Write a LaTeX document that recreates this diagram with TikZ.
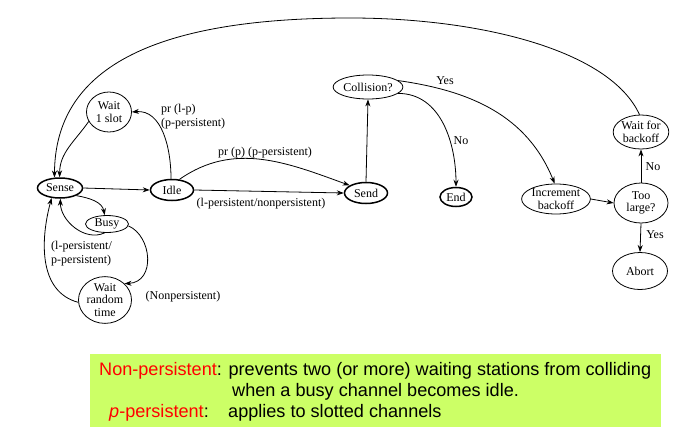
\documentclass[tikz,border=0pt]{standalone}
\usepackage{fontspec}
\setmainfont{Liberation Serif}
\newfontfamily\boxfont{Liberation Sans}
\usetikzlibrary{shapes.geometric,arrows.meta}
\definecolor{boxgreen}{HTML}{CCFF66}
\tikzset{
  st/.style={ellipse,draw,line width=0.8pt,inner sep=0pt,align=center,
    font=\fontsize{12}{12.5}\selectfont},
  stb/.style={st,line width=1.5pt},
  lbl/.style={font=\fontsize{12}{13.5}\selectfont,inner sep=0pt,align=left},
  arr/.style={-{Stealth[length=7pt,width=5pt]},line width=0.8pt},
  boxtxt/.style={font=\boxfont\fontsize{18.1}{21}\selectfont,inner sep=0pt,anchor=base west}
}
\begin{document}
\begin{tikzpicture}[x=1pt,y=-1pt]
\useasboundingbox (0,0) rectangle (696,439);
% nodes
\node[stb,minimum width=45pt,minimum height=20pt] (sense) at (60,188) {Sense};
\node[st,minimum width=45pt,minimum height=40pt] (wait1) at (109,112) {Wait\\1 slot};
\node[stb,minimum width=43pt,minimum height=21pt] (idle) at (172,190) {Idle};
\node[st,minimum width=43pt,minimum height=17pt] (busy) at (107,224) {Busy};
\node[st,minimum width=53pt,minimum height=42pt] (waitr) at (105,300) {Wait\\random\\time};
\node[stb,minimum width=43pt,minimum height=21pt] (send) at (366,193) {Send};
\node[st,minimum width=54pt,minimum height=24pt] (coll) at (368,87) {Collision?};
\node[stb,minimum width=32pt,minimum height=19pt] (endn) at (456,197) {End};
\node[st,minimum width=59pt,minimum height=30pt] (incb) at (556,199) {Increment\\backoff};
\node[st,minimum width=54pt,minimum height=40pt] (toolarge) at (641,203) {Too\\large?};
\node[st,minimum width=54pt,minimum height=34pt] (waitb) at (641,132) {Wait for\\backoff};
\node[st,minimum width=55pt,minimum height=37pt] (abort) at (640,271) {Abort};
% edges
\draw[arr] (sense.east) -- (idle.west);
\draw[arr] (idle.95) to[out=90,in=5] (wait1.east);
\draw[arr] (wait1.205) to[out=235,in=90] (sense.92);
\draw[arr] (sense.-25) to[out=-10,in=100] (busy.105);
\draw[arr] (busy.-105) to[out=205,in=-90] (sense.-88);
\draw[arr] (busy.-5) .. controls (152,236) and (156,282) .. (waitr.40);
\draw[arr] (waitr.185) to[out=165,in=255] (sense.230);
\draw[arr] (idle.55) to[out=35,in=160] (send.155);
\draw[arr] (idle.east) -- (send.west);
\draw[arr] (send.north) -- (coll.south);
\draw[arr] (coll.-12) to[out=0,in=90] (endn.north);
\draw[arr] (coll.12) to[out=-8,in=112] (incb.95);
\draw[arr] (incb.east) -- (toolarge.west);
\draw[arr] (toolarge.north) -- (waitb.south);
\draw[arr] (toolarge.south) -- (abort.north);
\coordinate (top) at (350,18);
\draw[arr] (waitb.95) .. controls (610,50) and (480,18) .. (top)
  .. controls (150,18) and (55,70) .. (sense.118);
% labels
\node[lbl,anchor=north west] (l1) at (161,104) {pr (l-p)\\(p-persistent)};
\node[lbl] (l2) at (265,153) {pr (p) (p-persistent)};
\node[lbl] (l3) at (261,204) {(l-persistent/nonpersistent)};
\node[lbl,anchor=north west] (l4) at (51,241) {(l-persistent/\\p-persistent)};
\node[lbl] (l5) at (183,297) {(Nonpersistent)};
\node[lbl] (l6) at (445,81) {Yes};
\node[lbl] (l7) at (461,141) {No};
\node[lbl] (l8) at (653,167) {No};
\node[lbl] (l9) at (655,235) {Yes};
% green box
\fill[boxgreen] (90,354) rectangle (661,427);
\node[boxtxt] (t1) at (99,375.5) {\textcolor{red}{Non-persistent}: prevents two (or more) waiting stations from colliding};
\node[boxtxt] (t2) at (232,396.5) {when a busy channel becomes idle.};
\node[boxtxt] (t3) at (109,417) {\textcolor{red}{\textit{p}-persistent}:};
\node[boxtxt] (t4) at (228,417) {applies to slotted channels};
\end{tikzpicture}
\end{document}
